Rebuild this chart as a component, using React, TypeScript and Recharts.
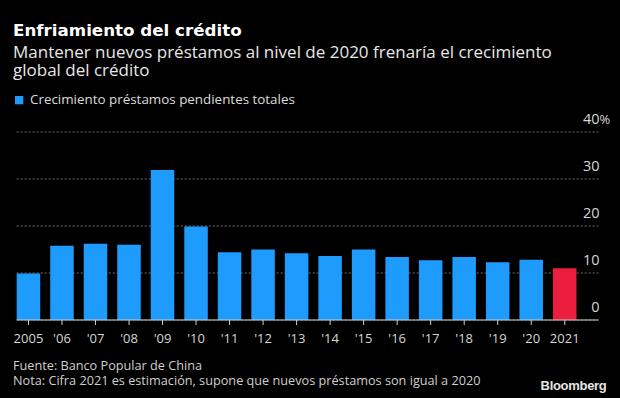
import React from 'react';
import { BarChart, Bar, XAxis, YAxis, CartesianGrid, Cell } from 'recharts';

const years = ['2005', '2006', '2007', '2008', '2009', '2010', '2011', '2012', '2013', '2014', '2015', '2016', '2017', '2018', '2019', '2020', '2021'];
const tickLabels = ['2005', "'06", "'07", "'08", "'09", "'10", "'11", "'12", "'13", "'14", "'15", "'16", "'17", "'18", "'19", "'20", '2021'];
const loanGrowth = [9.9, 15.8, 16.2, 16.0, 31.9, 19.9, 14.4, 15.0, 14.2, 13.6, 15.0, 13.4, 12.7, 13.4, 12.3, 12.8, 11.0];
const estimateYears = ['2021'];
const yTicks = [0, 10, 20, 30, 40];

const FONT = '"Open Sans", "Noto Sans", sans-serif';
const BLUE = '#1e9cfd';
const RED = '#ec1e40';

const data = years.map((year, i) => ({ year, label: tickLabels[i], value: loanGrowth[i] }));

const YTick = (props: any) => {
  const { x, y, payload } = props;
  return (
    <g>
      <text x={x + 1} y={y - 8} textAnchor="end" fill="#d6d6d6" fontSize={14.5} fontFamily={FONT}>
        {payload.value}
      </text>
      {payload.value === 40 && (
        <text x={x + 1} y={y - 8} textAnchor="start" fill="#d6d6d6" fontSize={13} fontFamily={FONT}>%</text>
      )}
    </g>
  );
};

const XTick = (props: any) => {
  const { x, y, index } = props;
  return (
    <text x={x} y={y + 9.3} textAnchor="middle" fill="#d6d6d6" fontSize={13} fontFamily={FONT}>
      {tickLabels[index]}
    </text>
  );
};

export default function App() {
  return (
    <div style={{ position: 'absolute', left: 0, top: 0, width: 620, height: 398, background: '#000', overflow: 'hidden' }}>
      <div style={{ position: 'absolute', left: 0, top: 0 }}>
        <BarChart
          width={620}
          height={398}
          data={data}
          margin={{ top: 132, right: 20.5, left: 16.7, bottom: 0 }}
          barCategoryGap="30%"
        >
          <CartesianGrid vertical={false} stroke="#6f6f6f" strokeDasharray="2 2" />
          <XAxis
            dataKey="year"
            height={78}
            padding={{ left: -5, right: 17 }}
            axisLine={{ stroke: '#cfcfcf' }}
            tickLine={{ stroke: '#cfcfcf' }}
            tickSize={5}
            tickMargin={9}
            interval={0}
            tick={<XTick />}
          />
          <YAxis
            orientation="right"
            width={1}
            domain={[0, 40]}
            ticks={yTicks}
            axisLine={false}
            tickLine={false}
            tickSize={0}
            tickMargin={0}
            tick={<YTick />}
          />
          <Bar dataKey="value" barSize={23.5} isAnimationActive={false}>
            {data.map((d) => (
              <Cell key={d.year} fill={estimateYears.includes(d.year) ? RED : BLUE} />
            ))}
          </Bar>
        </BarChart>
      </div>
      <svg width={620} height={398} style={{ position: 'absolute', left: 0, top: 0, pointerEvents: 'none' }}>
        <text x={13} y={36} fill="#ffffff" fontSize={16.7} fontWeight={700} fontFamily='"DejaVu Sans", sans-serif'>Enfriamiento del crédito</text>
        <text x={13} y={57.7} fill="#e8e8e8" fontSize={17} fontFamily={FONT}>
          Mantener nuevos préstamos al nivel de 2020 frenaría el crecimiento
        </text>
        <text x={13} y={75.5} fill="#e8e8e8" fontSize={17} fontFamily={FONT}>global del crédito</text>
        <rect x={15} y={96} width={8.3} height={8.3} fill={BLUE} />
        <text x={30} y={104} fill="#dcdcdc" fontSize={13.4} fontFamily={FONT}>Crecimiento préstamos pendientes totales</text>
        <text x={13} y={370} fill="#cfcfcf" fontSize={12.7} fontFamily={FONT}>Fuente: Banco Popular de China</text>
        <text x={13} y={385} fill="#cfcfcf" fontSize={12.7} fontFamily={FONT}>
          Nota: Cifra 2021 es estimación, supone que nuevos préstamos son igual a 2020
        </text>
        <text x={606.5} y={390} textAnchor="end" fill="#e6e6e6" fontSize={13} fontWeight={700} letterSpacing={-0.3} fontFamily='"Liberation Sans", Arial, sans-serif'>
          Bloomberg
        </text>
      </svg>
    </div>
  );
}
